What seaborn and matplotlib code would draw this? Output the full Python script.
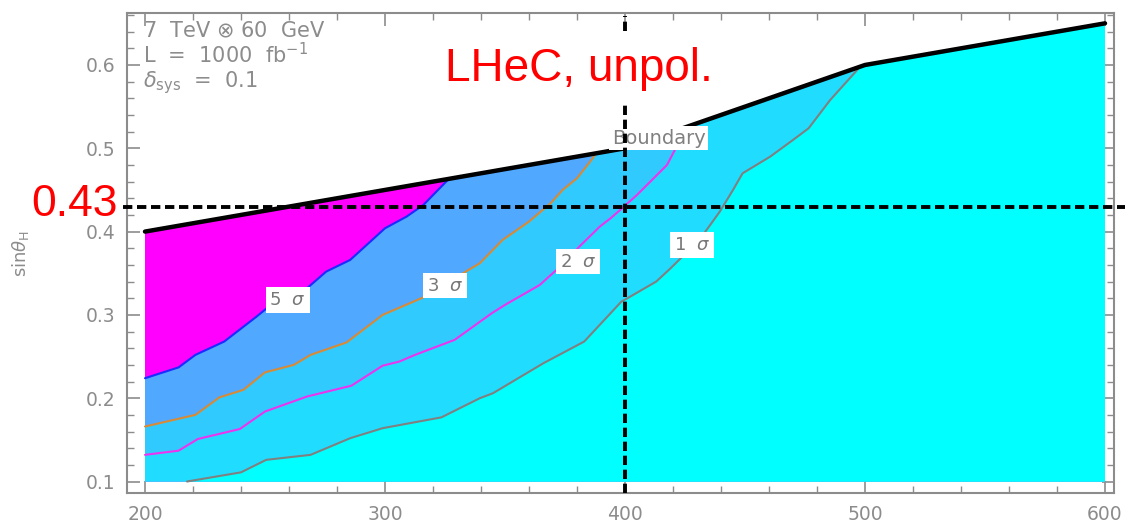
import matplotlib
matplotlib.use("Agg")
import matplotlib.pyplot as plt
import matplotlib.transforms as mtransforms
from matplotlib.ticker import MultipleLocator, FormatStrFormatter
import pandas as pd
import seaborn as sns

# ---- data -------------------------------------------------------------
# mass range (GeV) and mixing-angle range of the scan
x_range = [200, 600]
y_floor = 0.1

# upper boundary of the allowed region
boundary_x = [200, 400, 500, 600]
boundary_y = [0.40, 0.50, 0.60, 0.65]

# significance contours: 5, 3, 2, 1 sigma
sig5_x = [200, 214, 221, 233, 246.5, 255, 267.5, 275.5, 285.5, 300, 309, 316, 326.5]
sig5_y = [0.224, 0.237, 0.252, 0.268, 0.298, 0.318, 0.332, 0.352, 0.366, 0.404, 0.418, 0.432, 0.463]

sig3_x = [200, 221, 231, 241, 250, 262, 269, 284, 299, 320, 332.5, 339.5, 349, 360, 369, 374, 380, 386, 388]
sig3_y = [0.166, 0.180, 0.201, 0.210, 0.231, 0.240, 0.252, 0.267, 0.300, 0.326, 0.350, 0.362, 0.390,
          0.412, 0.434, 0.450, 0.464, 0.486, 0.494]

sig2_x = [200, 214, 222, 239.5, 250, 267.5, 286, 299, 306, 312.5, 329, 344.5, 350, 364.5, 373, 381,
          389.5, 394, 398, 405, 417.5, 421.5, 428]
sig2_y = [0.132, 0.137, 0.151, 0.163, 0.184, 0.202, 0.215, 0.239, 0.244, 0.252, 0.270, 0.302, 0.312,
          0.336, 0.358, 0.382, 0.406, 0.416, 0.426, 0.444, 0.480, 0.502, 0.528]

sig1_x = [217.5, 240, 250.5, 269, 285.5, 299, 323.5, 339.5, 345, 366, 383, 398.5, 401, 413, 419, 431,
          439.5, 445, 449, 460.5, 470, 476.5, 485.5, 498]
sig1_y = [0.100, 0.111, 0.126, 0.132, 0.152, 0.164, 0.177, 0.200, 0.206, 0.242, 0.268, 0.316, 0.320,
          0.340, 0.356, 0.390, 0.424, 0.450, 0.470, 0.490, 0.510, 0.524, 0.558, 0.598]

contour_labels = ["5  $\\sigma$", "3  $\\sigma$", "2  $\\sigma$", "1  $\\sigma$"]
contour_label_pos = [(259.5, 0.318), (325, 0.335), (380.5, 0.364), (428, 0.384)]
boundary_label = "Boundary"
boundary_label_pos = (414, 0.512)

# reference point
ref_x = 400
ref_y = 0.43

x_ticks = [200, 300, 400, 500, 600]
y_ticks = [0.1, 0.2, 0.3, 0.4, 0.5, 0.6]

# ---- style ------------------------------------------------------------
sns.set_theme(style="ticks")
plt.rcParams["font.family"] = ["DejaVu Sans"]
plt.rcParams["mathtext.fontset"] = "dejavusans"

GREY = "#8c8c8c"
fill_colors = ["#ff00ff", "#50a8ff", "#30caff", "#20ddff", "#00ffff"]
line_colors = ["#1a2cff", "#d98a35", "#ee33ee", "#808080"]

fig = plt.figure(figsize=(11.31, 5.25), dpi=100)
ax = fig.add_axes([127 / 1131, 32 / 525, 987 / 1131, 480 / 525])


def region_below(cx, cy):
    """Polygon under a contour, closed along the boundary, right edge and floor."""
    xe = cx[-1]
    tail = [(bx, by) for bx, by in zip(boundary_x, boundary_y) if bx > xe]
    px = list(cx) + [t[0] for t in tail] + [x_range[1], cx[0]]
    py = list(cy) + [t[1] for t in tail] + [y_floor, y_floor]
    return px, py


# filled bands, drawn from the outermost region inwards
bx_poly = list(boundary_x) + [x_range[1], x_range[0]]
by_poly = list(boundary_y) + [y_floor, y_floor]
ax.fill(bx_poly, by_poly, color=fill_colors[0], lw=0, zorder=1)

contours = [(sig5_x, sig5_y), (sig3_x, sig3_y), (sig2_x, sig2_y), (sig1_x, sig1_y)]
for (cx, cy), fc in zip(contours, fill_colors[1:]):
    px, py = region_below(cx, cy)
    ax.fill(px, py, color=fc, lw=0, zorder=1)

# contour lines
for (cx, cy), lc in zip(contours, line_colors):
    df = pd.DataFrame({"m": cx, "s": cy})
    sns.lineplot(data=df, x="m", y="s", sort=False, estimator=None, color=lc, lw=1.5, ax=ax, zorder=3)

# boundary line
dfb = pd.DataFrame({"m": boundary_x, "s": boundary_y})
sns.lineplot(data=dfb, x="m", y="s", sort=False, estimator=None, color="black", lw=3.2, ax=ax,
             zorder=4, solid_capstyle="round")

# contour labels
for txt, (lx, ly) in zip(contour_labels, contour_label_pos):
    ax.text(lx, ly, txt, ha="center", va="center", fontsize=13, color="#777777", zorder=5,
            bbox=dict(boxstyle="square,pad=0.2", fc="white", ec="none"))
ax.text(boundary_label_pos[0], boundary_label_pos[1], boundary_label, ha="center", va="center",
        fontsize=14, color="#808080", zorder=5,
        bbox=dict(boxstyle="square,pad=0.12", fc="white", ec="none"))

# dashed reference lines
dash_kw = dict(color="black", lw=2.8, dashes=(2.4, 1.2), zorder=6, clip_on=False)
ax.axvline(ref_x, ymin=0.0, ymax=0.994, **dash_kw)
ax.axhline(ref_y, xmin=-0.004, xmax=1.011, **dash_kw)

# red labels
blend = mtransforms.blended_transform_factory(ax.transAxes, ax.transData)
ax.text(-0.009, ref_y - 0.011, f"{ref_y:.2f}", transform=blend, ha="right", va="baseline",
        fontsize=32, color="#ff0000", family="Liberation Sans", clip_on=False, zorder=7)
ax.text(325, 0.581, "LHeC, unpol.", ha="left", va="baseline", fontsize=33, color="#ff0000",
        family="Liberation Sans", zorder=8,
        bbox=dict(boxstyle="square,pad=0.26", fc="white", ec="none"))

# run conditions
info_kw = dict(transform=ax.transAxes, ha="left", va="baseline", fontsize=15, color=GREY, zorder=7)
ax.text(0.016, 0.948, "7  TeV $\\otimes$ 60  GeV", **info_kw)
ax.text(0.016, 0.896, "L  =  1000  fb$^{-1}$", **info_kw)
ax.text(0.016, 0.846, "$\\delta_{\\rm sys}$  =  0.1", **info_kw)

# axes
ax.set_xlim(192.5, 603.75)
ax.set_ylim(0.0862, 0.6624)
ax.set_xticks(x_ticks)
ax.set_yticks(y_ticks)
ax.yaxis.set_major_formatter(FormatStrFormatter("%.1f"))
ax.xaxis.set_minor_locator(MultipleLocator(20))
ax.yaxis.set_minor_locator(MultipleLocator(0.02))
ax.tick_params(which="both", direction="in", top=True, right=True, color=GREY, labelcolor=GREY,
               labelsize=13.5, pad=8.5)
ax.tick_params(which="major", length=9, width=1.2)
ax.tick_params(which="minor", length=5, width=1.0)
for sp in ax.spines.values():
    sp.set_color(GREY)
    sp.set_linewidth(1.5)
ax.set_xlabel("")
ax.set_ylabel("sin$\\theta_{\\rm H}$", color=GREY, fontsize=13)
ax.yaxis.set_label_coords(-0.097, 0.5)

fig.savefig("out.png", dpi=100)
